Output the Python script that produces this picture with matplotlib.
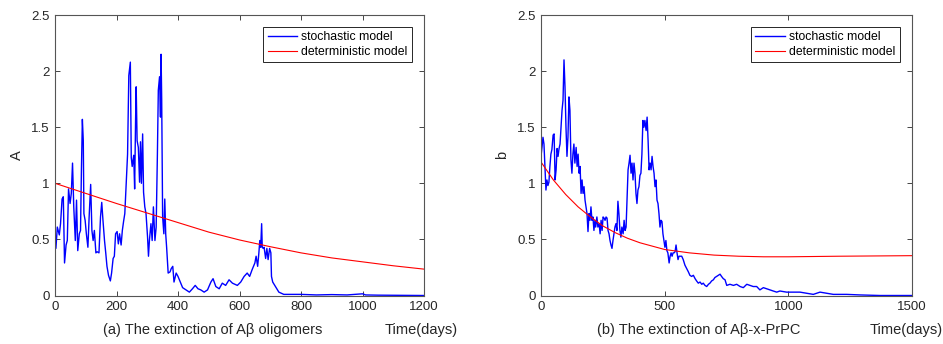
import matplotlib
matplotlib.use('Agg')
import matplotlib.pyplot as plt
import numpy as np

plt.rcParams['font.family'] = ['Liberation Sans', 'DejaVu Sans']

# ---- panel (a): A oligomers ----
a_days = [0, 3, 7.5, 14, 18, 23, 27, 31, 36, 40, 44, 49, 53, 57, 61, 66, 70, 74, 79, 83,
          86, 89, 92, 94, 98, 102, 107, 111, 116, 120, 124, 128, 133, 137, 143, 148, 152,
          156, 161, 165, 169, 174, 180, 184, 189, 193, 197, 202, 206, 210, 215, 219, 223,
          227, 232, 236, 240, 245, 248, 251, 256, 259, 262, 264, 267, 271, 275, 278, 281,
          285, 288, 292, 296, 301, 304, 307, 312, 316, 320, 325, 329, 333, 336, 340, 343,
          345, 347, 350, 354, 357, 360, 363, 368, 374, 378, 383, 387, 394, 400, 409, 415,
          426, 437, 447, 456, 465, 474, 485, 496, 507, 514, 523, 534, 544, 555,
          566, 577, 593, 604, 615, 625, 633, 641, 650, 654, 659, 663, 666, 669, 672, 674,
          677, 680, 685, 689, 693, 698, 702, 704, 708, 717, 728, 744, 760, 800, 850, 900,
          950, 1000, 1010, 1050, 1100, 1200]
a_stoch = [0.60, 0.42, 0.61, 0.54, 0.64, 0.86, 0.88, 0.29, 0.45, 0.49, 0.95, 0.82, 0.91,
           1.18, 0.79, 0.49, 0.85, 0.40, 0.55, 0.58, 1.13, 1.57, 1.38, 0.73, 0.67, 0.55,
           0.43, 0.70, 0.99, 0.58, 0.49, 0.58, 0.38, 0.39, 0.38, 0.70, 0.83, 0.67, 0.49,
           0.38, 0.26, 0.18, 0.13, 0.20, 0.33, 0.35, 0.55, 0.57, 0.46, 0.55, 0.45, 0.58,
           0.66, 0.73, 1.03, 1.26, 1.96, 2.08, 1.23, 1.15, 1.25, 0.95, 1.56, 1.86, 1.38,
           1.32, 1.01, 1.37, 1.00, 1.44, 0.92, 0.79, 0.73, 0.52, 0.35, 0.49, 0.64, 0.49,
           0.79, 0.49, 0.61, 1.26, 1.83, 1.95, 1.59, 2.15, 1.74, 0.70, 0.55, 0.86, 0.55,
           0.43, 0.20, 0.21, 0.24, 0.26, 0.12, 0.20, 0.17, 0.11, 0.07, 0.05, 0.03, 0.06,
           0.09, 0.06, 0.05, 0.03, 0.05, 0.12, 0.15, 0.08, 0.06, 0.11, 0.09,
           0.14, 0.11, 0.09, 0.12, 0.17, 0.20, 0.17, 0.23, 0.29, 0.35, 0.26, 0.38, 0.49,
           0.43, 0.64, 0.43, 0.42, 0.43, 0.33, 0.42, 0.32, 0.42, 0.38, 0.17, 0.12, 0.08,
           0.03, 0.01, 0.01, 0.01, 0.005, 0.008, 0.005, 0.015, 0.005, 0.003, 0.002, 0.0]
a_det_days = [0, 100, 200, 300, 400, 500, 600, 700, 800, 900, 1000, 1100, 1200]
a_det = [1.00, 0.91, 0.82, 0.735, 0.65, 0.565, 0.495, 0.435, 0.38, 0.335, 0.30, 0.265, 0.235]

# ---- panel (b): A-x-PrPC ----
b_days = [0, 4, 8, 12, 16, 20, 24, 28, 32, 36, 40, 44, 49, 53, 57, 61, 65, 69, 73, 77, 81,
          85, 89, 93, 97, 101, 105, 109, 113, 117, 121, 125, 129, 133, 137, 142, 146, 150,
          154, 158, 162, 166, 170, 174, 178, 182, 186, 190, 194, 198, 202, 206, 210, 214,
          218, 221, 226, 230, 235, 239, 243, 247, 251, 255, 259, 263, 267, 271, 275, 279,
          283, 287, 291, 295, 299, 303, 307, 311, 315, 319, 323, 327, 332, 336, 340, 344,
          348, 352, 356, 360, 364, 368, 372, 376, 380, 384, 388, 392, 396, 400, 404, 408,
          412, 416, 420, 425, 429, 433, 437, 441, 445, 449, 453, 457, 461, 465, 469, 473,
          477, 481, 485, 489, 493, 497, 501, 505, 509, 513, 518, 522, 526, 530, 534, 538,
          542, 546, 550, 554, 558, 562, 569, 575, 582, 589, 596, 602, 609, 616, 623, 629,
          636, 643, 650, 656, 663, 670, 677, 683, 690, 697, 703, 710, 717, 724, 730, 737,
          744, 751, 764, 778, 791, 805, 818, 832, 845, 858, 872, 885, 899, 912, 926, 939,
          953, 966, 993, 1020, 1047, 1074, 1101, 1128, 1155, 1182, 1209, 1236, 1290, 1371,
          1500]
b_stoch = [1.24, 1.32, 1.41, 1.35, 1.15, 0.94, 1.03, 0.98, 1.01, 1.15, 1.26, 1.30, 1.43,
           1.44, 1.03, 1.12, 1.31, 1.24, 1.31, 1.35, 1.50, 1.65, 1.74, 2.10, 1.86, 1.50,
           1.24, 1.41, 1.77, 1.65, 1.21, 1.09, 1.26, 1.35, 1.18, 1.32, 1.15, 1.26, 1.09,
           1.15, 0.91, 1.03, 0.91, 0.97, 0.85, 0.79, 0.73, 0.57, 0.73, 0.67, 0.79, 0.67,
           0.70, 0.58, 0.67, 0.61, 0.70, 0.61, 0.64, 0.55, 0.67, 0.58, 0.70, 0.69, 0.67,
           0.70, 0.69, 0.58, 0.55, 0.49, 0.45, 0.42, 0.49, 0.55, 0.61, 0.64, 0.58, 0.84,
           0.73, 0.58, 0.52, 0.61, 0.55, 0.67, 0.58, 0.61, 0.88, 1.12, 1.18, 1.25, 1.09,
           1.18, 1.03, 1.18, 1.09, 0.91, 0.82, 0.94, 0.97, 1.07, 1.09, 1.26, 1.56, 1.50,
           1.56, 1.47, 1.59, 1.38, 1.12, 1.18, 1.12, 1.24, 1.15, 1.09, 0.97, 1.03, 0.85,
           0.82, 0.73, 0.61, 0.67, 0.66, 0.55, 0.49, 0.43, 0.49, 0.40, 0.38, 0.29, 0.35,
           0.38, 0.35, 0.38, 0.38, 0.39, 0.45, 0.38, 0.32, 0.35, 0.35, 0.35, 0.32, 0.27,
           0.24, 0.21, 0.18, 0.17, 0.18, 0.15, 0.13, 0.11, 0.12, 0.10, 0.11, 0.09, 0.08,
           0.10, 0.11, 0.13, 0.14, 0.16, 0.17, 0.18, 0.19, 0.17, 0.15, 0.14, 0.09, 0.10,
           0.09, 0.10, 0.08, 0.07, 0.10, 0.09, 0.08, 0.08, 0.05, 0.07, 0.06, 0.05, 0.04,
           0.03, 0.04, 0.03, 0.03, 0.03, 0.02, 0.01, 0.03, 0.02, 0.01, 0.01, 0.01, 0.005,
           0.0, 0.0]
b_det_days = [0, 50, 100, 150, 200, 250, 300, 350, 400, 450, 500, 600, 700, 800, 900,
              1000, 1200, 1500]
b_det = [1.19, 1.03, 0.90, 0.79, 0.70, 0.62, 0.56, 0.51, 0.47, 0.44, 0.41, 0.38, 0.36,
         0.35, 0.345, 0.345, 0.35, 0.355]

y_ticks = [0, 0.5, 1, 1.5, 2, 2.5]
y_ticklabels = ['0', '0.5', '1', '1.5', '2', '2.5']
a_xticks = [0, 200, 400, 600, 800, 1000, 1200]
b_xticks = [0, 500, 1000, 1500]

fig = plt.figure(figsize=(9.43, 3.44), dpi=100)
ax1 = fig.add_axes([55/943, 1-295.5/344, 369/943, 280.5/344])
ax2 = fig.add_axes([541/943, 1-295.5/344, 371/943, 280.5/344])

panels = [
    (ax1, a_days, a_stoch, a_det_days, a_det, 1200, a_xticks, 'A'),
    (ax2, b_days, b_stoch, b_det_days, b_det, 1500, b_xticks, 'b'),
]
for ax, xd, ys, xdet, ydet, xmax, xt, ylab in panels:
    ax.plot(xd, ys, color='#0000ff', lw=1.0, label='stochastic model')
    ax.plot(xdet, ydet, color='#ff0000', lw=0.8, label='deterministic model')
    ax.set_xlim(0, xmax)
    ax.set_ylim(0, 2.5)
    ax.set_xticks(xt)
    ax.set_xticklabels([str(t) for t in xt])
    ax.set_yticks(y_ticks)
    ax.set_yticklabels(y_ticklabels)
    ax.tick_params(direction='in', length=3.5, width=0.6, top=True, right=True,
                   labelsize=9.5, labelcolor='#262626', color='#262626', pad=4)
    for s in ax.spines.values():
        s.set_color('#555555')
        s.set_linewidth(0.8)
    ax.set_ylabel(ylab, fontsize=10.5, color='#262626')
    ax.yaxis.set_label_coords(-0.085, 0.5)
    leg = ax.legend(loc='upper right', bbox_to_anchor=(0.967, 0.957), borderaxespad=0,
                    fontsize=8.8, handlelength=2.4, handletextpad=0.35, labelspacing=0.2,
                    borderpad=0.35, fancybox=False, framealpha=1)
    leg.get_frame().set_edgecolor('#262626')
    leg.get_frame().set_linewidth(0.7)

yt = 1 - 330/344
fig.text(103/943, yt, '(a) The extinction of Aβ oligomers', fontsize=10.5,
         color='#262626', va='center', ha='left')
fig.text(385/943, yt, 'Time(days)', fontsize=10.5, color='#262626', va='center', ha='left')
fig.text(597/943, yt, '(b) The extinction of Aβ-x-PrPC', fontsize=10.5,
         color='#262626', va='center', ha='left')
fig.text(870/943, yt, 'Time(days)', fontsize=10.5, color='#262626', va='center', ha='left')

fig.savefig('out.png', dpi=100)
